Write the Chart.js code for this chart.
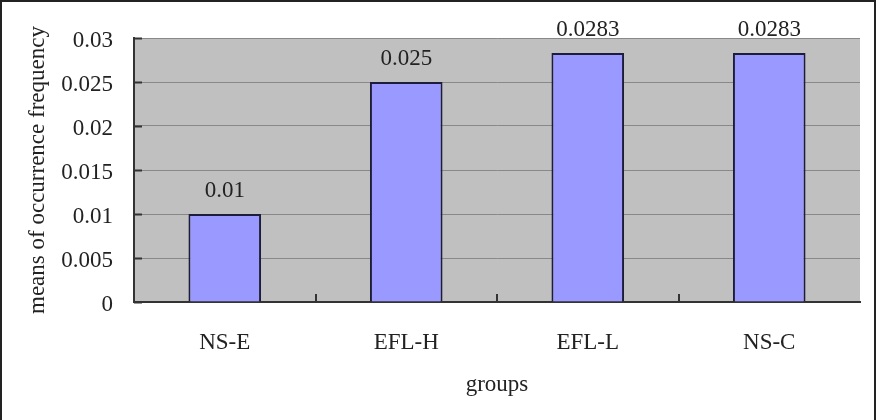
<!DOCTYPE html>
<html>
<head>
<meta charset="utf-8">
<script src="https://cdn.jsdelivr.net/npm/chart.js@4"></script>
<style>
  body { margin: 0; background: #fff; }
  canvas { display: block; }
</style>
</head>
<body>
<canvas id="chart" width="880" height="420"></canvas>
<script>
const groups = ['NS-E', 'EFL-H', 'EFL-L', 'NS-C'];
const means = [0.01, 0.025, 0.0283, 0.0283];
const valueLabels = ['0.01', '0.025', '0.0283', '0.0283'];

const serif = "'Liberation Serif', 'DejaVu Serif', serif";
const textColor = '#222';

// gray plot background + outer frame
const backdrop = {
    id: 'backdrop',
    beforeDraw(chart) {
        const { ctx, chartArea: a } = chart;
        ctx.save();
        ctx.fillStyle = '#c0c0c0';
        ctx.fillRect(a.left, a.top, a.right - a.left, a.bottom - a.top);
        ctx.restore();
    },
    afterDraw(chart) {
        const { ctx, chartArea: a, scales } = chart;
        ctx.save();
        // frame
        ctx.strokeStyle = '#222';
        ctx.lineWidth = 2;
        ctx.strokeRect(1, 1, 874, 500);
        // inside ticks
        ctx.strokeStyle = '#333';
        ctx.lineWidth = 2;
        ctx.beginPath();
        scales.y.ticks.forEach(t => {
            const y = Math.round(scales.y.getPixelForValue(t.value)) + 0.5;
            ctx.moveTo(a.left, y);
            ctx.lineTo(a.left + 8, y);
        });
        for (let i = 1; i < groups.length; i++) {
            const x = Math.round((scales.x.getPixelForTick(i - 1) + scales.x.getPixelForTick(i)) / 2);
            ctx.moveTo(x, a.bottom);
            ctx.lineTo(x, a.bottom - 8);
        }
        ctx.stroke();
        // value labels
        ctx.fillStyle = textColor;
        ctx.font = '23px ' + serif;
        ctx.textAlign = 'center';
        ctx.textBaseline = 'middle';
        chart.getDatasetMeta(0).data.forEach((bar, i) => {
            ctx.fillText(valueLabels[i], bar.x, bar.y - 23);
        });
        ctx.restore();
    }
};

new Chart(document.getElementById('chart'), {
    type: 'bar',
    data: {
        labels: groups,
        datasets: [{
            data: means,
            backgroundColor: '#9999ff',
            borderColor: '#1c1c3c',
            borderWidth: 2,
            categoryPercentage: 1,
            barPercentage: 0.4
        }]
    },
    options: {
        responsive: false,
        animation: false,
        devicePixelRatio: 1,
        layout: { padding: { left: 0, top: 38, right: 20, bottom: 0 } },
        plugins: {
            legend: { display: false },
            tooltip: { enabled: false }
        },
        scales: {
            x: {
                grid: { display: false, drawTicks: false },
                border: { display: true, color: '#333', width: 2 },
                ticks: { color: textColor, font: { family: serif, size: 23 }, padding: 27 },
                title: {
                    display: true, text: 'groups', color: textColor,
                    font: { family: serif, size: 23 }, padding: { top: 0, bottom: 21 }
                },
                afterFit(scale) { scale.height = 118; }
            },
            y: {
                min: 0,
                max: 0.03,
                grid: { color: '#888888', lineWidth: 1, drawTicks: false },
                border: { display: true, color: '#333', width: 2 },
                ticks: {
                    stepSize: 0.005,
                    color: textColor,
                    font: { family: serif, size: 23 },
                    padding: 21,
                    labelOffset: 3,
                    callback: v => String(+v.toFixed(3))
                },
                title: {
                    display: true, text: 'means of occurrence frequency', color: textColor,
                    font: { family: serif, size: 23 }, padding: { top: 24, bottom: 0 }
                },
                afterFit(scale) { scale.width = 134; }
            }
        }
    },
    plugins: [backdrop]
});
</script>
</body>
</html>
